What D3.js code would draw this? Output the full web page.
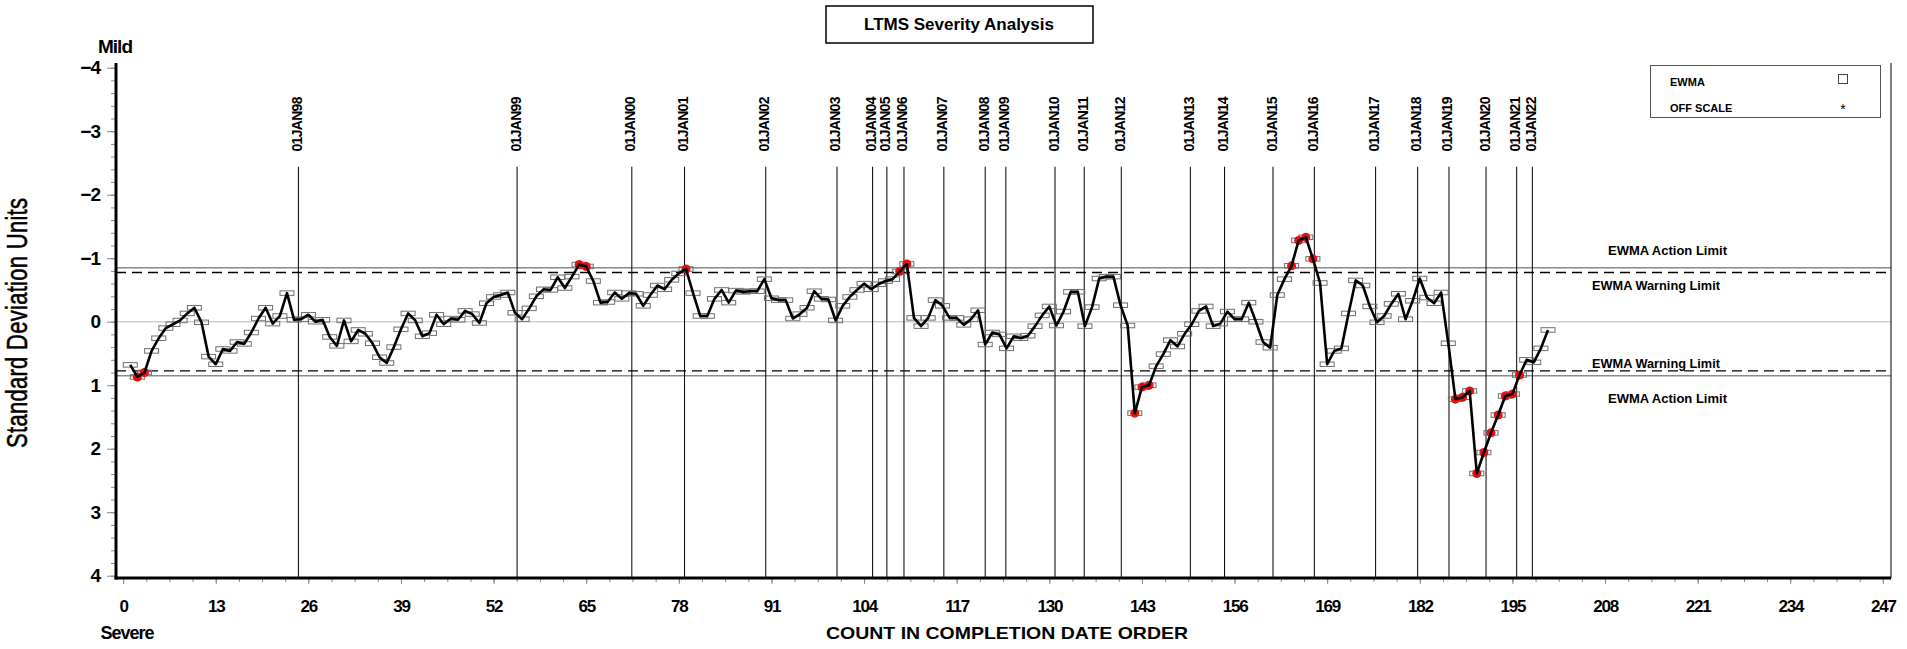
<!DOCTYPE html>
<html>
<head>
<meta charset="utf-8">
<script src="https://cdn.jsdelivr.net/npm/d3@7"></script>
<style>
  body { margin: 0; background: #fff; }
  svg { display: block; }
  text { font-family: "Liberation Sans", Arial, Helvetica, sans-serif; fill: #000; }
</style>
</head>
<body>
<svg id="chart" width="1907" height="649"></svg>
<script>
// EWMA severity values, one per test in completion order (counts 1..200)
const ewma = [
  0.68, 0.87, 0.80, 0.46, 0.26, 0.10, 0.04, -0.02, -0.13, -0.22,
  0.01, 0.55, 0.67, 0.43, 0.46, 0.32, 0.35, 0.17, -0.05, -0.22,
  0.03, -0.09, -0.45, -0.03, -0.04, -0.11, 0.00, -0.03, 0.24, 0.38,
  -0.02, 0.31, 0.13, 0.19, 0.34, 0.56, 0.65, 0.40, 0.12, -0.13,
  -0.02, 0.23, 0.18, -0.11, 0.04, -0.05, -0.03, -0.17, -0.12, 0.02,
  -0.29, -0.39, -0.42, -0.46, -0.14, -0.04, -0.21, -0.40, -0.51, -0.50,
  -0.70, -0.53, -0.71, -0.90, -0.87, -0.64, -0.30, -0.31, -0.46, -0.36,
  -0.45, -0.44, -0.25, -0.42, -0.57, -0.51, -0.66, -0.76, -0.83, -0.45,
  -0.09, -0.09, -0.36, -0.50, -0.30, -0.49, -0.47, -0.48, -0.48, -0.67,
  -0.37, -0.34, -0.34, -0.05, -0.12, -0.22, -0.48, -0.36, -0.35, -0.02,
  -0.25, -0.39, -0.50, -0.60, -0.51, -0.59, -0.64, -0.67, -0.79, -0.91,
  -0.06, 0.07, -0.06, -0.34, -0.25, -0.06, -0.06, 0.05, -0.04, -0.18,
  0.36, 0.17, 0.20, 0.42, 0.23, 0.26, 0.22, 0.07, -0.10, -0.24,
  0.06, -0.16, -0.47, -0.47, 0.07, -0.23, -0.68, -0.71, -0.71, -0.26,
  0.06, 1.44, 1.03, 1.00, 0.70, 0.51, 0.29, 0.39, 0.19, 0.04,
  -0.17, -0.24, 0.07, 0.03, -0.16, -0.04, -0.04, -0.30, 0.00, 0.32,
  0.41, -0.42, -0.67, -0.88, -1.28, -1.33, -0.99, -0.61, 0.67, 0.46,
  0.42, -0.13, -0.65, -0.57, -0.24, 0.01, -0.09, -0.28, -0.44, -0.04,
  -0.33, -0.68, -0.38, -0.29, -0.46, 0.34, 1.22, 1.19, 1.09, 2.39,
  2.06, 1.75, 1.47, 1.17, 1.14, 0.84, 0.60, 0.64, 0.42, 0.13
];
const counts = ewma.map((_, i) => i + 1);

// Year boundaries (position on the count axis) and their labels
const yearLabels = ["01JAN98", "01JAN99", "01JAN00", "01JAN01", "01JAN02", "01JAN03", "01JAN04",
  "01JAN05", "01JAN06", "01JAN07", "01JAN08", "01JAN09", "01JAN10", "01JAN11", "01JAN12",
  "01JAN13", "01JAN14", "01JAN15", "01JAN16", "01JAN17", "01JAN18", "01JAN19", "01JAN20",
  "01JAN21", "01JAN22"];
const yearPositions = [24.6, 55.3, 71.4, 78.8, 90.2, 100.2, 105.2, 107.2, 109.6, 115.2, 121.0,
  123.9, 130.8, 134.9, 140.1, 149.8, 154.6, 161.4, 167.2, 175.8, 181.7, 186.1, 191.3, 195.6, 197.8];

// Axis ticks
const xTicks = [0, 13, 26, 39, 52, 65, 78, 91, 104, 117, 130, 143, 156, 169, 182, 195, 208, 221, 234, 247];
const yTicks = [-4, -3, -2, -1, 0, 1, 2, 3, 4];

// Control limits
const actionLimit = 0.85;
const warningLimit = 0.775;

const svg = d3.select("#chart");
const x = d3.scaleLinear().domain([-1, 248]).range([116, 1890]);
const y = d3.scaleLinear().domain([-4, 4]).range([67.7, 575.7]);
const plotTop = 63, plotBottom = 578, plotLeft = 116, plotRight = 1891;

// Title box
svg.append("rect").attr("x", 826).attr("y", 6).attr("width", 267).attr("height", 37)
  .attr("fill", "none").attr("stroke", "#000").attr("stroke-width", 1.5);
svg.append("text").attr("x", 959).attr("y", 24).attr("text-anchor", "middle")
  .attr("dominant-baseline", "central").attr("font-size", 17).attr("font-weight", "bold")
  .text("LTMS Severity Analysis");

// Zero reference line
svg.append("line").attr("x1", plotLeft).attr("x2", plotRight)
  .attr("y1", y(0)).attr("y2", y(0)).attr("stroke", "#cfcfcf").attr("stroke-width", 1.5);

// Action (solid grey) and warning (dashed black) limits
[-actionLimit, actionLimit].forEach(v => {
  svg.append("line").attr("x1", plotLeft).attr("x2", plotRight)
    .attr("y1", y(v)).attr("y2", y(v)).attr("stroke", "#8a8a8a").attr("stroke-width", 1.5);
});
[-warningLimit, warningLimit].forEach(v => {
  svg.append("line").attr("x1", plotLeft).attr("x2", plotRight)
    .attr("y1", y(v)).attr("y2", y(v)).attr("stroke", "#000").attr("stroke-width", 1.3)
    .attr("stroke-dasharray", "10,6");
});

// Limit labels on the right
const limitText = [
  { t: "EWMA Action Limit", v: -actionLimit, dy: -17, x0: 1608, len: 119 },
  { t: "EWMA Warning Limit", v: -warningLimit, dy: 14, x0: 1592, len: 128 },
  { t: "EWMA Warning Limit", v: warningLimit, dy: -7, x0: 1592, len: 128 },
  { t: "EWMA Action Limit", v: actionLimit, dy: 23, x0: 1608, len: 119 }
];
svg.selectAll(".limlab").data(limitText).join("text").attr("class", "limlab")
  .attr("x", d => d.x0).attr("y", d => y(d.v) + d.dy)
  .attr("dominant-baseline", "central").attr("font-size", 12).attr("font-weight", "bold")
  .attr("textLength", d => d.len).attr("lengthAdjust", "spacingAndGlyphs")
  .text(d => d.t);

// Year boundary lines and rotated date labels
svg.selectAll(".yr").data(yearPositions).join("line").attr("class", "yr")
  .attr("x1", d => x(d)).attr("x2", d => x(d))
  .attr("y1", 166.7).attr("y2", plotBottom)
  .attr("stroke", "#000").attr("stroke-width", 1);
svg.selectAll(".yrlab").data(yearPositions).join("text").attr("class", "yrlab")
  .attr("transform", d => `translate(${x(d) - 1.5},124) rotate(-90)`)
  .attr("text-anchor", "middle").attr("dominant-baseline", "central")
  .attr("font-size", 14).attr("font-weight", "bold")
  .style("font-family", "'Liberation Sans Narrow', 'Liberation Sans', Arial, sans-serif")
  .attr("textLength", 55).attr("lengthAdjust", "spacing")
  .text((d, i) => yearLabels[i]);

// Y axis: minor then major ticks
const yMinor = d3.range(-4, 4.001, 0.2).map(v => +v.toFixed(1));
svg.append("g").attr("transform", `translate(${plotLeft},0)`)
  .call(d3.axisLeft(y).tickValues(yMinor).tickSize(5).tickFormat(""))
  .call(g => g.select(".domain").remove())
  .call(g => g.selectAll("line").attr("stroke", "#888"));
svg.append("g").attr("transform", `translate(${plotLeft},0)`)
  .call(d3.axisLeft(y).tickValues(yTicks).tickSize(9).tickPadding(7)
    .tickFormat(d => d < 0 ? "\u2212" + (-d) : String(d)))
  .call(g => g.select(".domain").remove())
  .call(g => g.selectAll("line").attr("stroke", "#888"))
  .call(g => g.selectAll("text").attr("font-size", 19).attr("font-weight", "bold")
    .attr("letter-spacing", -1).style("font-family", "'Liberation Sans', Arial, sans-serif").attr("fill", "#000"));

// X axis: minor then major ticks
const xMinor = d3.range(0, 248, 3.25);
svg.append("g").attr("transform", `translate(0,${plotBottom})`)
  .call(d3.axisBottom(x).tickValues(xMinor).tickSize(4).tickFormat(""))
  .call(g => g.select(".domain").remove())
  .call(g => g.selectAll("line").attr("stroke", "#888"));
svg.append("g").attr("transform", `translate(0,${plotBottom})`)
  .call(d3.axisBottom(x).tickValues(xTicks).tickSize(6).tickPadding(16))
  .call(g => g.select(".domain").remove())
  .call(g => g.selectAll("line").attr("stroke", "#888"))
  .call(g => g.selectAll("text").attr("font-size", 17).attr("font-weight", "bold")
    .attr("letter-spacing", -1.2).style("font-family", "'Liberation Sans', Arial, sans-serif").attr("fill", "#000"));

// Axis lines
svg.append("line").attr("x1", plotLeft).attr("x2", plotLeft).attr("y1", plotTop).attr("y2", plotBottom + 1.5)
  .attr("stroke", "#000").attr("stroke-width", 3);
svg.append("line").attr("x1", plotLeft - 1.5).attr("x2", plotRight).attr("y1", plotBottom).attr("y2", plotBottom)
  .attr("stroke", "#000").attr("stroke-width", 3);
svg.append("line").attr("x1", plotRight).attr("x2", plotRight).attr("y1", plotTop).attr("y2", plotBottom)
  .attr("stroke", "#000").attr("stroke-width", 1);

// Axis titles
svg.append("text").attr("x", 115).attr("y", 46).attr("text-anchor", "middle")
  .attr("dominant-baseline", "central").attr("font-size", 19).attr("font-weight", "bold")
  .attr("letter-spacing", -1).text("Mild");
svg.append("text").attr("x", 127).attr("y", 633).attr("text-anchor", "middle")
  .attr("dominant-baseline", "central").attr("font-size", 18).attr("font-weight", "bold")
  .attr("letter-spacing", -1).text("Severe");
svg.append("text").attr("x", 1007).attr("y", 633).attr("text-anchor", "middle")
  .attr("dominant-baseline", "central").attr("font-size", 17).attr("font-weight", "bold")
  .attr("textLength", 362).attr("lengthAdjust", "spacingAndGlyphs")
  .text("COUNT IN COMPLETION DATE ORDER");
// Tall, narrow, letter-spaced vertical title
svg.append("text").attr("transform", "translate(17,323) rotate(-90) scale(1,1.3)")
  .attr("text-anchor", "middle").attr("dominant-baseline", "central").attr("font-size", 22)
  .style("font-family", "'Liberation Sans Narrow', 'Liberation Sans', Arial, sans-serif")
  .attr("stroke", "#000").attr("stroke-width", 0.4)
  .attr("textLength", 250).attr("lengthAdjust", "spacing")
  .text("Standard Deviation Units");

// Legend
svg.append("rect").attr("x", 1650.5).attr("y", 65.5).attr("width", 230).attr("height", 52)
  .attr("fill", "#fff").attr("stroke", "#555").attr("stroke-width", 1);
svg.append("text").attr("x", 1670).attr("y", 82).attr("dominant-baseline", "central")
  .attr("font-size", 11).attr("font-weight", "bold").text("EWMA");
svg.append("text").attr("x", 1670).attr("y", 108).attr("dominant-baseline", "central")
  .attr("font-size", 11).attr("font-weight", "bold").text("OFF SCALE");
svg.append("rect").attr("x", 1838.5).attr("y", 74.5).attr("width", 9).attr("height", 9)
  .attr("fill", "none").attr("stroke", "#444").attr("stroke-width", 1);
svg.append("text").attr("x", 1843).attr("y", 109).attr("text-anchor", "middle")
  .attr("dominant-baseline", "central").attr("font-size", 14).attr("fill", "#333").text("*");

// Data: point boxes, out-of-limit markers, EWMA line
const pts = counts.map((c, i) => ({ c, v: ewma[i] }));
svg.append("g").selectAll("rect").data(pts).join("rect")
  .attr("x", d => x(d.c) - 7).attr("y", d => y(d.v) - 2.25)
  .attr("width", 14).attr("height", 4.5)
  .attr("fill", "none").attr("stroke", "#6e6e6e").attr("stroke-width", 1);
svg.append("g").selectAll("circle").data(pts.filter(d => Math.abs(d.v) > warningLimit)).join("circle")
  .attr("cx", d => x(d.c)).attr("cy", d => y(d.v)).attr("r", 4.5)
  .attr("fill", "#e8100c");
svg.append("path").datum(pts)
  .attr("d", d3.line().x(d => x(d.c)).y(d => y(d.v)))
  .attr("fill", "none").attr("stroke", "#000").attr("stroke-width", 2.6)
  .attr("stroke-linejoin", "round");
</script>
</body>
</html>
